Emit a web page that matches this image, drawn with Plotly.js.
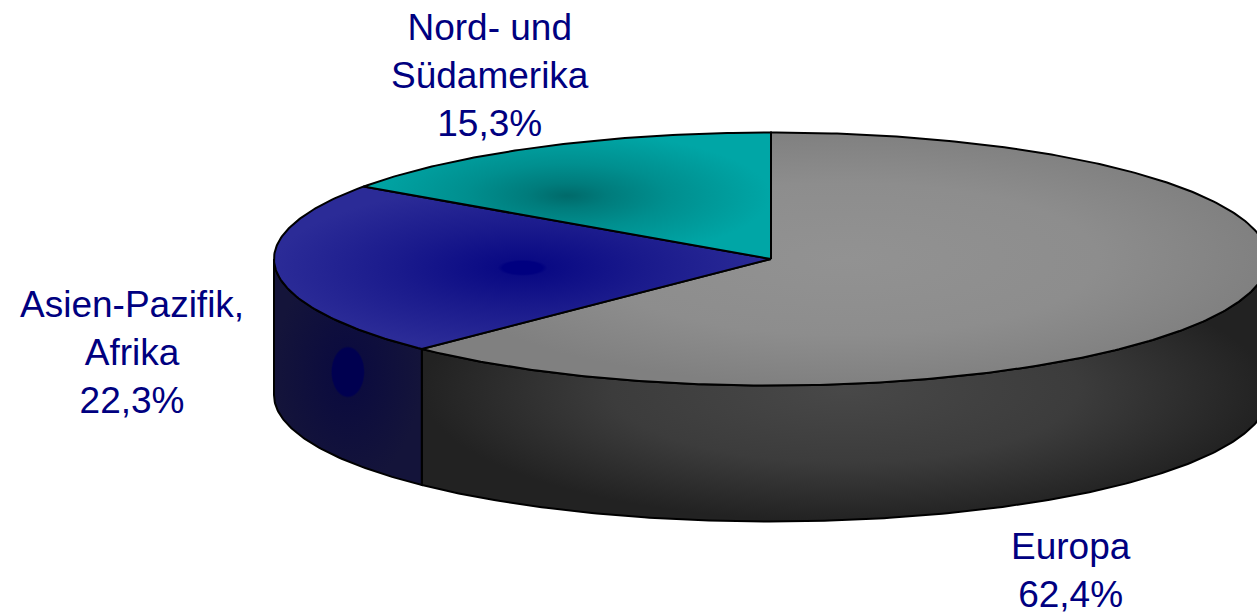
<!DOCTYPE html>
<html>
<head>
<meta charset="utf-8">
<script src="https://cdn.plot.ly/plotly-3.0.1.min.js"></script>
<style>html,body{margin:0;padding:0;background:#fff}#chart{width:1257px;height:615px}</style>
</head>
<body>
<div id="chart"></div>
<script>
// Data
const categories = ["Europa", "Asien-Pazifik,<br>Afrika", "Nord- und<br>Südamerika"];
const shares = [62.4, 22.3, 15.3];

// Drawing parameters of the tilted disc (axis units are pixels from the disc centre)
const RX = 497, RY = 126.5, DEPTH = 136;
// In Plotly's radial fill, colorscale position 0 is the centre and 1 is the rim
const topScales = [
  [[0,"#929292"],[0.6,"#8d8d8d"],[1,"#808080"]],
  [[0,"#000080"],[0.08,"#000080"],[0.1,"#0a0a84"],[0.5,"#1a1a8c"],[1,"#2b2b97"]],
  [[0,"#006a6a"],[0.2,"#007c7c"],[0.5,"#008f8f"],[1,"#00a6a6"]]
];
const sideScales = {
  0: [[0,"#484848"],[0.55,"#3c3c3c"],[1,"#222222"]],
  1: [[0,"#000050"],[0.21,"#000050"],[0.23,"#0c0c3e"],[1,"#14143a"]]
};
const labelX = [300, -639, -281];
const labelY = [311, 93, -184];

const rad = pct => pct / 100 * 2 * Math.PI;
const px = a => RX * Math.sin(a);
const py = a => -RY * Math.cos(a);

function arc(a0, a1, dy) {
  const n = Math.max(2, Math.ceil(Math.abs(a1 - a0) * 90));
  const xs = [], ys = [];
  for (let i = 0; i <= n; i++) {
    const a = a0 + (a1 - a0) * i / n;
    xs.push(px(a)); ys.push(py(a) + dy);
  }
  return [xs, ys];
}

const common = {
  type: "scatter", mode: "lines", fill: "toself", hoverinfo: "skip",
  line: {color: "#000000", width: 2}, showlegend: false
};

const traces = [];
const cum = [];
shares.reduce((s, v, i) => (cum[i] = s + v, cum[i]), 0);
const starts = [0, cum[0], cum[1]];

// Visible side walls: everything in the lower half of the disc
[0, 1].forEach(i => {
  const a0 = Math.max(rad(starts[i]), Math.PI / 2);
  const a1 = Math.min(rad(cum[i]), 1.5 * Math.PI);
  const [tx, ty] = arc(a0, a1, 0);
  const [bx, by] = arc(a1, a0, DEPTH);
  traces.push(Object.assign({}, common, {
    x: tx.concat(bx, [tx[0]]), y: ty.concat(by, [ty[0]]),
    fillgradient: {type: "radial", colorscale: sideScales[i]},
    name: categories[i] + " side"
  }));
});

// Top faces
shares.forEach((v, i) => {
  const [ax, ay] = arc(rad(starts[i]), rad(cum[i]), 0);
  traces.push(Object.assign({}, common, {
    x: [0].concat(ax, [0]), y: [0].concat(ay, [0]),
    fillgradient: {type: "radial", colorscale: topScales[i]},
    name: categories[i]
  }));
});

const annotations = categories.map((c, i) => ({
  xref: "x", yref: "y", x: labelX[i], y: labelY[i],
  text: c + "<br>" + shares[i].toFixed(1).replace(".", ",") + "%",
  showarrow: false, align: "center", xanchor: "center", yanchor: "middle",
  font: {family: "Liberation Sans, Arial, sans-serif", size: 37, color: "#000080"}
}));

const hidden = {visible: false, fixedrange: true};
Plotly.newPlot("chart", traces, {
  width: 1257, height: 615,
  margin: {l: 0, r: 0, t: 0, b: 0},
  paper_bgcolor: "#ffffff", plot_bgcolor: "#ffffff",
  xaxis: Object.assign({range: [-771, 486]}, hidden),
  yaxis: Object.assign({range: [356, -259]}, hidden),
  annotations: annotations
}, {displayModeBar: false, staticPlot: true});
</script>
</body>
</html>
